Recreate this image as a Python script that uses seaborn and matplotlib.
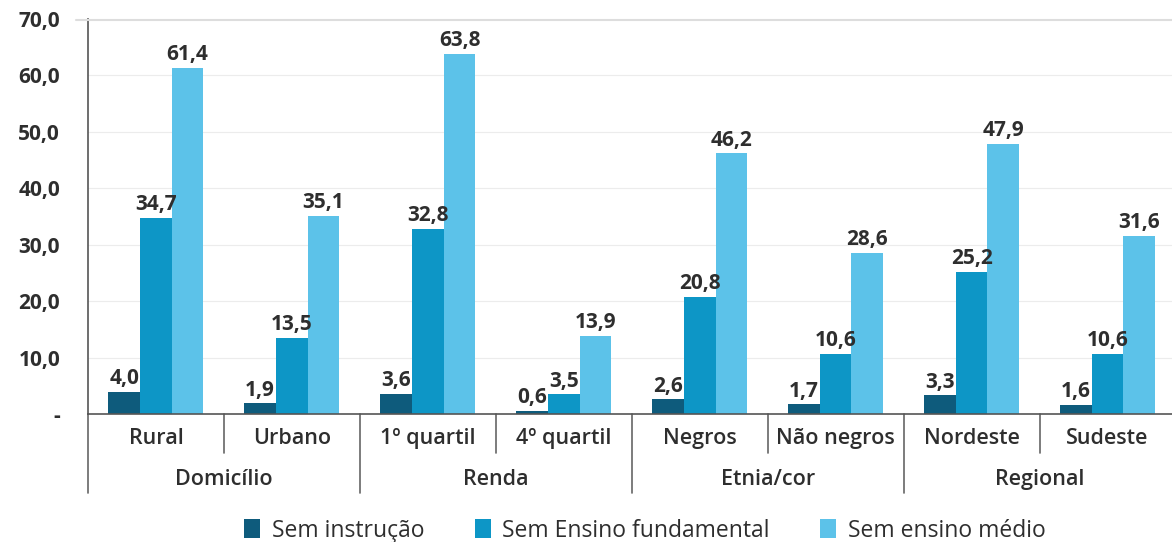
import pandas as pd
import matplotlib.pyplot as plt
import seaborn as sns

# data
categories = ["Rural", "Urbano", "1º quartil", "4º quartil",
              "Negros", "Não negros", "Nordeste", "Sudeste"]
groups = ["Domicílio", "Renda", "Etnia/cor", "Regional"]
series = ["Sem instrução", "Sem Ensino fundamental", "Sem ensino médio"]
sem_instrucao = [4.0, 1.9, 3.6, 0.6, 2.6, 1.7, 3.3, 1.6]
sem_fundamental = [34.7, 13.5, 32.8, 3.5, 20.8, 10.6, 25.2, 10.6]
sem_medio = [61.4, 35.1, 63.8, 13.9, 46.2, 28.6, 47.9, 31.6]
yticks = [0, 10, 20, 30, 40, 50, 60, 70]
colors = ["#0e5b7c", "#0d96c6", "#5cc2e9"]

df = pd.DataFrame({
    "categoria": categories * 3,
    "serie": [s for s in series for _ in categories],
    "valor": sem_instrucao + sem_fundamental + sem_medio,
})

sns.set_style("white")
plt.rcParams["font.family"] = ["Open Sans", "DejaVu Sans"]
text_color = "#2e2e2e"

fig = plt.figure(figsize=(11.72, 5.42), dpi=100)
ax = fig.add_axes([0.075, 0.236, 0.928, 0.729])

sns.barplot(data=df, x="categoria", y="valor", hue="serie", order=categories,
            hue_order=series, palette=colors, width=0.7, saturation=1,
            linewidth=0, ax=ax, legend=True)

ax.set_ylim(0, 70)
ax.set_xlim(-0.5, len(categories) - 0.5)
ax.set_yticks(yticks)
ax.set_yticklabels(["-" if v == 0 else f"{v:.1f}".replace(".", ",") for v in yticks],
                   fontsize=15, fontweight="bold", color=text_color)
ax.yaxis.grid(True, color="#ececec", linewidth=0.8)
ax.set_axisbelow(True)
ax.tick_params(axis="y", length=12, color="#555555", width=1, direction="out", pad=8)
ax.tick_params(axis="x", length=0, labelbottom=False)
ax.set_xlabel("")
ax.set_ylabel("")

for side in ["top", "right"]:
    ax.spines[side].set_visible(False)
ax.spines["left"].set_color("#555555")
ax.spines["bottom"].set_color("#555555")
ax.spines["left"].set_linewidth(1.2)
ax.spines["bottom"].set_linewidth(1.2)

# value labels
for cont in ax.containers:
    ax.bar_label(cont, labels=[f"{v:.1f}".replace(".", ",") for v in cont.datavalues],
                 padding=2, fontsize=15, fontweight="bold", color=text_color)

# two-level category axis
trans = ax.get_xaxis_transform()
for i, cat in enumerate(categories):
    ax.text(i, -0.063, cat, transform=trans, ha="center", va="center",
            fontsize=15.5, color=text_color, fontweight="semibold")
for i in range(len(categories) + 1):
    x = i - 0.5
    bottom = -0.2 if i % 2 == 0 else -0.099
    ax.plot([x, x], [0, bottom], transform=trans, color="#666666",
            linewidth=1.2, clip_on=False)
for g, name in enumerate(groups):
    ax.text(2 * g + 0.5, -0.165, name, transform=trans, ha="center", va="center",
            fontsize=15.5, color=text_color, fontweight="semibold")

# light frame line along the top
fig.add_artist(plt.Line2D([0.065, 1.0], [0.963, 0.963], color="#dddddd", linewidth=1.5))

handles, labels = ax.get_legend_handles_labels()
ax.legend(handles, labels, loc="center", bbox_to_anchor=(0.512, -0.295),
          ncol=3, frameon=False, fontsize=16.5, handlelength=0.7, handleheight=0.9,
          columnspacing=2.2, handletextpad=0.5, labelcolor=text_color)

plt.savefig("out.png", dpi=100)
